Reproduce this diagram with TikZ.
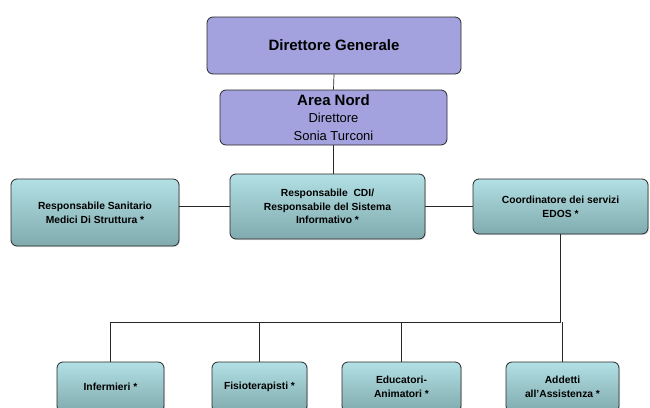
\documentclass[tikz,border=0pt]{standalone}
\usepackage{fontspec}
\setmainfont{Liberation Sans}
\usepackage{xcolor}
\usepackage{tikz}
\usetikzlibrary{positioning,shadows}
\definecolor{lilac}{RGB}{164, 162, 222}
\definecolor{tealtop}{RGB}{178, 224, 228}
\definecolor{tealbot}{RGB}{128, 170, 174}
\definecolor{edge}{RGB}{40, 40, 40}

\begin{document}
\begin{tikzpicture}[x=1pt, y=-1pt,
    headbox/.style={draw=edge, fill=lilac, rounded corners=6pt, line width=0.8pt,
        align=center, inner sep=0pt},
    staffbox/.style={draw=edge, rounded corners=6pt, line width=0.8pt,
        top color=tealtop, bottom color=tealbot, align=center, inner sep=0pt,
        drop shadow={shadow xshift=1pt, shadow yshift=-1pt, opacity=0.25},
        font=\bfseries\fontsize{10.3}{13.8}\selectfont},
    link/.style={draw=edge, line width=0.7pt}]
            \useasboundingbox (0,0) rectangle (650,407);
            \clip (0,0) rectangle (650,407);

            % Direzione
            \node[headbox, minimum width=254pt, minimum height=57pt,
                font=\bfseries\fontsize{15}{18}\selectfont] (dg) at (334,45.5) {Direttore Generale};
            \node[headbox, minimum width=227pt, minimum height=55pt,
                font=\fontsize{13}{17.5}\selectfont] (nord) at (333.5,117.5)
                {{\bfseries\fontsize{15}{17.5}\selectfont Area Nord}\\Direttore\\Sonia Turconi};

            % Responsabili
            \node[staffbox, minimum width=195pt, minimum height=65pt] (cdi) at (327.5,206.5)
                {Responsabile\ \ CDI/\\Responsabile del Sistema\\Informativo *};
            \node[staffbox, minimum width=168pt, minimum height=67pt] (san) at (95,212.5)
                {Responsabile Sanitario\\Medici Di Struttura *};
            \node[staffbox, minimum width=175pt, minimum height=55pt] (edos) at (560.5,206.5)
                {Coordinatore dei servizi\\EDOS *};

            % Servizi
            \node[staffbox, minimum width=107pt, minimum height=50pt] (inf) at (110.5,387) {Infermieri *};
            \node[staffbox, minimum width=95pt, minimum height=50pt] (fis) at (259.5,387) {Fisioterapisti *};
            \node[staffbox, minimum width=119pt, minimum height=50pt] (edu) at (401.5,387) {Educatori-\\Animatori *};
            \node[staffbox, minimum width=113pt, minimum height=50pt] (add) at (562.5,387) {Addetti\\all'Assistenza *};

            % Collegamenti
            \coordinate (bus) at (0,322);
            \draw[link] (dg.south) -- (nord.north);
            \draw[link] (nord.south) -- (nord.south |- cdi.north);
            \draw[link] (san.east |- cdi.west) -- (cdi.west);
            \draw[link] (cdi.east) -- (cdi.east -| edos.west);
            \draw[link] (edos.south) -- (edos.south |- bus) -| (inf.north);
            \draw[link] (fis.north) -- (fis.north |- bus);
            \draw[link] (edu.north) -- (edu.north |- bus);
            \draw[link] (add.north) -- (add.north |- bus);
        \end{tikzpicture}
\end{document}
